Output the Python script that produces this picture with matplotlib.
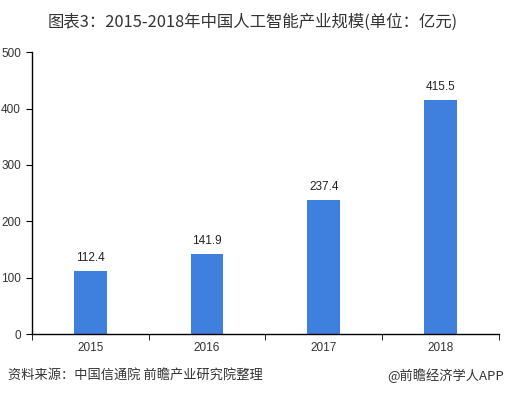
import numpy as np
import matplotlib
matplotlib.use('Agg')
from matplotlib import pyplot as plt

plt.rcParams['font.family'] = ['Liberation Sans', 'Noto Sans CJK SC', 'DejaVu Sans']

years = ['2015', '2016', '2017', '2018']
scale = [112.4, 141.9, 237.4, 415.5]
yticks = [0, 100, 200, 300, 400, 500]

title = '图表3：2015-2018年中国人工智能产业规模(单位：亿元)'
source = '资料来源：中国信通院 前瞻产业研究院整理'
brand = '@前瞻经济学人APP'

fig = plt.figure(figsize=(5.06, 3.95), dpi=100)
ax = fig.add_axes([0.0632, 0.1544, 0.9228, 0.7136])

x = np.arange(len(years))
ax.bar(x, scale, width=0.28, color='#3f80de', zorder=2)
for xi, v in zip(x, scale):
	ax.text(xi, v + 12, '%.1f' % v, ha='center', va='bottom', fontsize=8.5, color='#222222')

ax.set_xlim(-0.5, len(years) - 0.5)
ax.set_ylim(0, 500)
ax.set_yticks(yticks)
ax.set_yticklabels([str(t) for t in yticks], fontsize=8.5, color='#333333')
ax.set_xticks(x)
ax.set_xticklabels(years, fontsize=8.5, color='#333333')
ax.tick_params(axis='x', length=0, pad=6)
# boundary ticks between categories
ax.set_xticks(np.arange(len(years) + 1) - 0.5, minor=True)
ax.tick_params(axis='x', which='minor', length=4, direction='out', color='black')
ax.tick_params(axis='y', length=4, direction='out', color='black', pad=4)

for s in ['top', 'right']:
	ax.spines[s].set_visible(False)
for s in ['left', 'bottom']:
	ax.spines[s].set_color('black')
	ax.spines[s].set_linewidth(1.0)

fig.text(0.5, 0.945, title, ha='center', va='center', fontsize=11.8,
		 color='#333333', family=['Noto Sans CJK SC', 'DejaVu Sans'])
fig.text(0.016, 0.05, source, ha='left', va='center', fontsize=9.5,
		 color='#333333', family=['Noto Sans CJK SC', 'DejaVu Sans'])
fig.text(0.997, 0.05, brand, ha='right', va='center', fontsize=9.5,
		 color='#333333', family=['Noto Sans CJK SC', 'DejaVu Sans'])

plt.savefig('out.png', dpi=100)
